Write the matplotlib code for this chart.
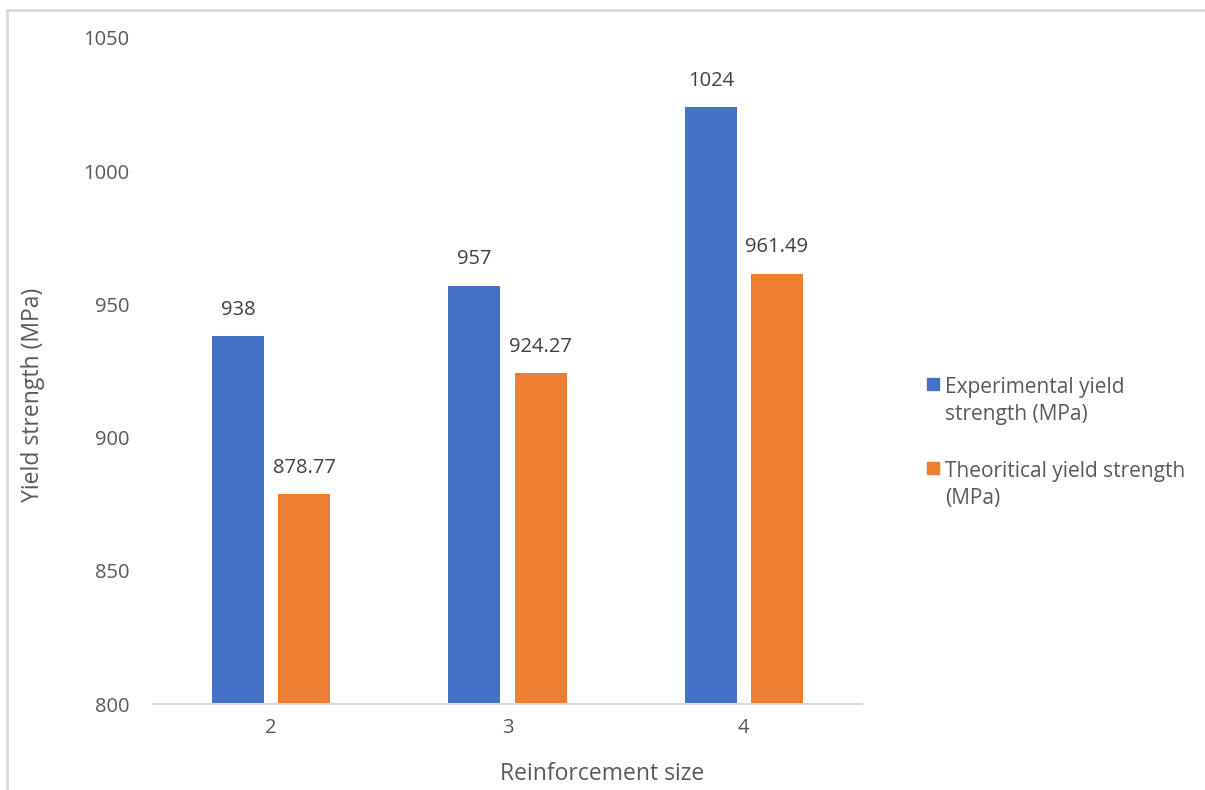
import matplotlib
matplotlib.use("Agg")
import matplotlib.pyplot as plt
from matplotlib.lines import Line2D
from matplotlib.patches import Rectangle
import numpy as np

categories = ["2", "3", "4"]
experimental = [938, 957, 1024]
theoretical = [878.77, 924.27, 961.49]
exp_labels = ["938", "957", "1024"]
theo_labels = ["878.77", "924.27", "961.49"]
series_names = ["Experimental yield\nstrength (MPa)", "Theoritical yield strength\n(MPa)"]
y_ticks = [800, 850, 900, 950, 1000, 1050]

BLUE = "#4472C4"
ORANGE = "#ED7D31"
TEXT = "#595959"
AXIS = "#D9D9D9"

plt.rcParams["font.family"] = ["Open Sans", "DejaVu Sans"]

W, H = 1205, 790
fig = plt.figure(figsize=(W / 100, H / 100), dpi=100)


def fx(px):
    return px / W


def fy(py):
    return 1 - py / H


# outer chart frame (top and left edges visible)
fig.add_artist(Line2D([fx(7), fx(7)], [0, fy(10)], transform=fig.transFigure,
                      color=AXIS, lw=2))
fig.add_artist(Line2D([fx(7), 1], [fy(10), fy(10)], transform=fig.transFigure,
                      color=AXIS, lw=2))

ax = fig.add_axes([fx(153), fy(704), fx(862 - 153), (704 - 38) / H])

x = np.arange(len(categories))
bw = 0.22
off = 0.14
b1 = ax.bar(x - off, experimental, bw, color=BLUE)
b2 = ax.bar(x + off, theoretical, bw, color=ORANGE)

for bars, labels in ((b1, exp_labels), (b2, theo_labels)):
    for rect, lab in zip(bars, labels):
        ax.annotate(lab, (rect.get_x() + rect.get_width() / 2, rect.get_height()),
                    xytext=(0, 19), textcoords="offset points", ha="center",
                    va="center", fontsize=14.5, color="#404040")

ax.set_xlim(-0.5, len(categories) - 0.5)
ax.set_ylim(800, 1050)
ax.set_yticks(y_ticks)
ax.set_xticks(x)
ax.set_xticklabels(categories)

for s in ["top", "right", "left"]:
    ax.spines[s].set_visible(False)
ax.spines["bottom"].set_color(AXIS)
ax.spines["bottom"].set_linewidth(1.5)
ax.tick_params(axis="both", length=0, labelsize=14.5, colors=TEXT)
ax.tick_params(axis="y", pad=17)
ax.tick_params(axis="x", pad=10)

ax.set_ylabel("Yield strength (MPa)", fontsize=16.5, color=TEXT)
ax.yaxis.set_label_coords(fx(33), 0.5, transform=fig.transFigure)
ax.set_xlabel("Reinforcement size", fontsize=16.5, color=TEXT)
ax.xaxis.set_label_coords(0.5, fy(774), transform=fig.transFigure)
ax.xaxis.label.set_va("center")
ax.yaxis.label.set_va("center")

# legend: colour square beside a two-line label for each series
legend_rows = [(b1, 378), (b2, 462)]
for (bars, top), name in zip(legend_rows, series_names):
    color = bars.patches[0].get_facecolor()
    fig.add_artist(Rectangle((fx(927), fy(top + 12)), 12 / W, 12 / H,
                             transform=fig.transFigure, color=color))
    fig.text(fx(945), fy(top - 1), name, fontsize=15, color=TEXT,
             ha="left", va="top", linespacing=1.4)

fig.savefig("out.png", dpi=100)
